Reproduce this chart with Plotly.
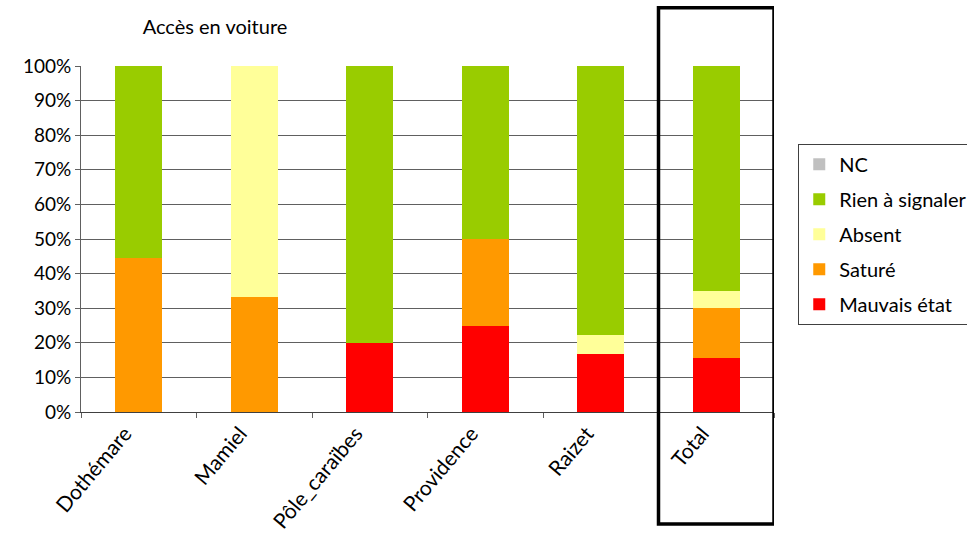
import plotly.graph_objects as go

categories = ["Dothémare", "Mamiel", "Pôle_caraïbes", "Providence", "Raizet", "Total"]
mauvais_etat = [0, 0, 20, 25, 16.7, 15.6]
sature = [44.4, 33.3, 0, 25, 0, 14.4]
absent = [0, 66.7, 0, 0, 5.6, 5.0]
rien = [55.6, 0, 80, 50, 77.7, 65.0]
nc = [0, 0, 0, 0, 0, 0]
y_ticks = list(range(0, 101, 10))
y_tick_labels = [f"{v}%" for v in y_ticks]

series = [
    ("Mauvais état", mauvais_etat, "#FF0000"),
    ("Saturé", sature, "#FF9900"),
    ("Absent", absent, "#FFFF99"),
    ("Rien à signaler", rien, "#99CC00"),
    ("NC", nc, "#C0C0C0"),
]

FONT = "Lato, Liberation Sans, sans-serif"

fig = go.Figure()
n = len(series)
for i, (name, vals, col) in enumerate(series):
    fig.add_trace(go.Bar(
        x=categories, y=vals, name=name, marker_color=col,
        marker_line_width=0, legendgroup=name, legendrank=1000 + (n - i),
    ))

fig.update_layout(
    width=967, height=538,
    barmode="stack", bargap=0.59,
    plot_bgcolor="white", paper_bgcolor="white",
    margin=dict(l=81, r=193, t=66, b=126, autoexpand=False),
    font=dict(family=FONT, size=20, color="black"),
    title=dict(text="Accès en voiture", x=215/967, xanchor="center",
               y=1 - 27/538, yanchor="middle", font=dict(size=20)),
    legend=dict(
        x=1.035, xanchor="left", y=0.775, yanchor="top",
        traceorder="grouped", tracegroupgap=6,
        bordercolor="#404040", borderwidth=1,
        font=dict(size=20), itemsizing="constant",
    ),
    showlegend=True,
)

fig.update_yaxes(
    range=[0, 100], tickmode="array", tickvals=y_ticks, ticktext=y_tick_labels,
    showgrid=True, gridcolor="#606060", gridwidth=1,
    showline=True, linecolor="#606060", linewidth=1,
    ticks="outside", ticklen=5, tickcolor="#606060",
    zeroline=False, tickfont=dict(size=19), automargin=False,
)
fig.update_xaxes(
    tickangle=-50, showline=True, linecolor="#404040", linewidth=1,
    ticks="outside", ticklen=5, tickcolor="#606060", tickson="boundaries",
    range=[-0.5, 5.5], tickfont=dict(size=21), automargin=False,
    ticklabelshift=-14,
)

fig.add_shape(
    type="rect", xref="x", yref="paper",
    x0=4.5, x1=5.5, y0=-0.324, y1=1.168,
    line=dict(color="black", width=3.5), fillcolor="rgba(0,0,0,0)",
)

fig.write_html("out.html")
